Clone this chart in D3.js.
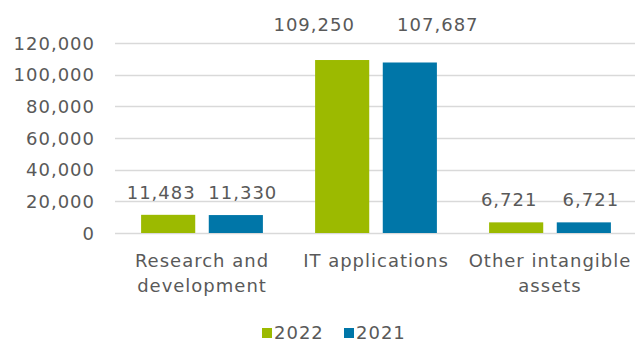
<!DOCTYPE html>
<html>
<head>
<meta charset="utf-8">
<script src="https://cdn.jsdelivr.net/npm/d3@7"></script>
<style>
  body { margin: 0; background: #fff; }
  svg text { font-family: "DejaVu Sans", Verdana, sans-serif; fill: #595959; letter-spacing: 1px; }
</style>
</head>
<body>
<div id="chart"></div>
<script>
// chart data
const categories = [["Research and", "development"], ["IT applications"], ["Other intangible", "assets"]];
const series = ["2022", "2021"];
const values2022 = [11483, 109250, 6721];
const values2021 = [11330, 107687, 6721];
const yTicks = [0, 20000, 40000, 60000, 80000, 100000, 120000];
const colors = ["#9cba00", "#0076a8"];

const width = 635;
const height = 343;
const margin = { top: 43, right: 0, bottom: 110, left: 115 };

const svg = d3.select("#chart")
  .append("svg")
  .attr("width", width)
  .attr("height", height);

const catIdx = categories.map((d, i) => i);

const x0 = d3.scaleBand()
  .domain(catIdx)
  .range([margin.left, 637])
  .paddingInner(0.3)
  .paddingOuter(0.15);

const x1 = d3.scaleBand()
  .domain(series)
  .range([0, x0.bandwidth()])
  .paddingInner(0.2);

const y = d3.scaleLinear()
  .domain([0, 120000])
  .range([233, 43]);

// gridlines
svg.append("g")
  .selectAll("line")
  .data(yTicks)
  .join("line")
  .attr("x1", margin.left)
  .attr("x2", 635)
  .attr("y1", d => Math.round(y(d)) + 0.5)
  .attr("y2", d => Math.round(y(d)) + 0.5)
  .attr("stroke", "#d9d9d9")
  .attr("stroke-width", 1.5);

// y axis labels
const fmt = d3.format(",");
svg.append("g")
  .selectAll("text")
  .data(yTicks)
  .join("text")
  .attr("x", 95)
  .attr("y", d => y(d) + 6.5)
  .attr("text-anchor", "end")
  .style("font-size", "18px")
  .text(d => fmt(d));

// bars
const rows = catIdx.map(i => [values2022[i], values2021[i]]);
const group = svg.append("g")
  .selectAll("g")
  .data(rows)
  .join("g")
  .attr("transform", (d, i) => `translate(${x0(i)},0)`);

group.selectAll("rect")
  .data(d => d.map((v, j) => ({ key: series[j], value: v, j })))
  .join("rect")
  .attr("x", d => x1(d.key))
  .attr("y", d => y(d.value))
  .attr("width", x1.bandwidth())
  .attr("height", d => y(0) - y(d.value))
  .attr("fill", d => colors[d.j]);

// value labels: tall bars get their label above the plot top,
// and the pair is pushed apart so the labels don't collide
const isTall = v => y(v) - 16 < 50;
const labelY = v => isTall(v) ? 31 : y(v) - 16;
const labelDx = d => (d.j === 0 ? -1 : 1) * (isTall(d.value) ? 28 : 7);

group.selectAll("text")
  .data(d => d.map((v, j) => ({ key: series[j], value: v, j })))
  .join("text")
  .attr("x", d => x1(d.key) + x1.bandwidth() / 2 + labelDx(d))
  .attr("y", d => labelY(d.value))
  .attr("text-anchor", "middle")
  .style("font-size", "18px")
  .text(d => fmt(d.value));

// category labels
const catLabels = svg.append("g")
  .selectAll("text")
  .data(categories)
  .join("text")
  .attr("x", (d, i) => x0(i) + x0.bandwidth() / 2)
  .attr("y", 267)
  .attr("text-anchor", "middle")
  .style("font-size", "18px");

catLabels.selectAll("tspan")
  .data(d => d)
  .join("tspan")
  .attr("x", function () { return this.parentNode.getAttribute("x"); })
  .attr("dy", (d, i) => i === 0 ? 0 : 25)
  .text(d => d);

// legend
const legendX = [262, 344];
const legend = svg.append("g")
  .selectAll("g")
  .data(series)
  .join("g")
  .attr("transform", (d, i) => `translate(${legendX[i]},0)`);

legend.append("rect")
  .attr("x", 0)
  .attr("y", 328)
  .attr("width", 10)
  .attr("height", 10)
  .attr("fill", (d, i) => colors[i]);

legend.append("text")
  .attr("x", 12)
  .attr("y", 339)
  .style("font-size", "18px")
  .text(d => d);
</script>
</body>
</html>
